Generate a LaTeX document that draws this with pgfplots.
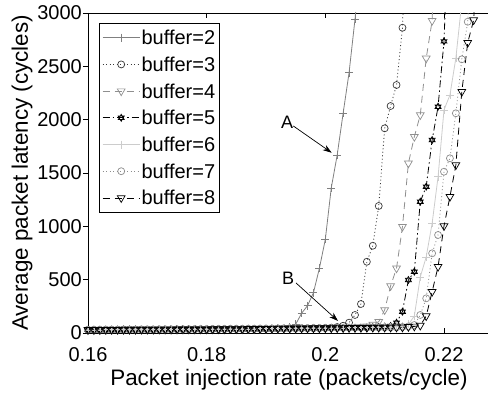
\documentclass[border=0pt]{standalone}
\usepackage{pgfplots}
\pgfplotsset{compat=1.18}
\usepackage{pgfplotstable}
\usepackage{fontspec}
\setmainfont{Liberation Sans}
\usetikzlibrary{arrows.meta}

\pgfdeclareplotmark{hexagram}{%
  \pgfpathmoveto{\pgfqpointpolar{90}{\pgfplotmarksize}}%
  \pgfpathlineto{\pgfqpointpolar{210}{\pgfplotmarksize}}%
  \pgfpathlineto{\pgfqpointpolar{330}{\pgfplotmarksize}}%
  \pgfpathclose
  \pgfpathmoveto{\pgfqpointpolar{270}{\pgfplotmarksize}}%
  \pgfpathlineto{\pgfqpointpolar{30}{\pgfplotmarksize}}%
  \pgfpathlineto{\pgfqpointpolar{150}{\pgfplotmarksize}}%
  \pgfpathclose
  \pgfusepathqstroke}

\definecolor{cA}{gray}{0.50}
\definecolor{cB}{gray}{0.22}
\definecolor{cC}{gray}{0.56}
\definecolor{cD}{gray}{0.00}
\definecolor{cE}{gray}{0.80}
\definecolor{cF}{gray}{0.55}
\definecolor{cG}{gray}{0.00}

\pgfplotstableread{
x      b2    b3    b4    b5    b6    b7    b8
0.160  30    30    30    30    30    30    30
0.161  30    30    30    30    30    30    30
0.162  30    30    30    30    30    30    30
0.163  31    31    31    31    31    31    31
0.164  31    31    31    31    31    31    31
0.165  31    31    31    31    31    31    31
0.166  32    32    32    32    32    32    32
0.167  32    32    32    32    32    32    32
0.168  32    32    32    32    32    32    32
0.169  33    33    33    33    33    33    33
0.170  33    33    33    33    33    33    33
0.171  33    33    33    33    33    33    33
0.172  34    34    34    34    34    34    34
0.173  34    34    34    34    34    34    34
0.174  34    34    34    34    34    34    34
0.175  35    35    35    35    35    35    35
0.176  35    35    35    35    35    35    35
0.177  35    35    35    35    35    35    35
0.178  36    36    36    36    36    36    36
0.179  36    36    36    36    36    36    36
0.180  36    36    36    36    36    36    36
0.181  37    37    37    37    37    37    37
0.182  37    37    37    37    37    37    37
0.183  37    37    37    37    37    37    37
0.184  38    38    38    38    38    38    38
0.185  38    38    38    38    38    38    38
0.186  38    38    38    38    38    38    38
0.187  39    39    39    39    39    39    39
0.188  39    39    39    39    39    39    39
0.189  40    40    40    40    40    40    40
0.190  40    40    40    40    40    40    40
0.191  41    41    41    41    41    41    41
0.192  42    42    42    42    42    42    42
0.193  43    43    43    43    43    43    43
0.194  55    44    44    44    44    44    44
0.195  81    44    44    44    44    44    44
0.196  185   45    45    45    45    45    45
0.197  256   45    45    45    45    45    45
0.198  378   46    46    46    46    46    46
0.199  607   46    46    46    46    46    46
0.200  878   47    47    47    47    47    47
0.201  1360  50    47    47    47    47    47
0.202  1669  56    48    48    48    48    48
0.203  2060  68    48    48    48    48    48
0.204  2440  97    49    49    49    49    49
0.205  2941  169   52    49    49    49    49
0.206  3500  272   56    50    50    50    50
0.207  nan   668   64    50    50    50    50
0.208  nan   818   80    54    51    51    51
0.209  nan   1191  106   57    51    51    51
0.210  nan   1919  216   60    55    52    52
0.211  nan   2128  441   66    58    52    52
0.212  nan   2325  607   97    62    53    53
0.213  nan   2862  997   200   68    57    53
0.214  nan   4500  1591  497   80    62    58
0.215  nan   nan   1840  575   159   75    62
0.216  nan   nan   2044  1231  525   169   70
0.217  nan   nan   2575  1372  713   325   159
0.218  nan   nan   2928  1809  1028  747   387
0.219  nan   nan   4500  2122  1465  919   622
0.220  nan   nan   nan   2734  2091  1512  1003
0.221  nan   nan   nan   4200  2231  1638  1278
0.222  nan   nan   nan   nan   2578  2060  1575
0.223  nan   nan   nan   nan   3100  2566  2262
0.224  nan   nan   nan   nan   nan   2918  2722
0.225  nan   nan   nan   nan   nan   4000  2934
0.226  nan   nan   nan   nan   nan   nan   4000
}\data

\begin{document}
\begin{tikzpicture}
\path[use as bounding box] (-88bp,-61bp) rectangle (400bp,333bp);
\begin{axis}[
  at={(0,0)}, anchor=south west,
  scale only axis, width=402bp, height=320bp,
  xmin=0.16, xmax=0.227753, ymin=0, ymax=3000,
  axis line style={black, line width=0.8bp},
  xtick={0.16,0.18,0.2,0.22}, xticklabels={0.16,0.18,0.2,0.22},
  ytick={0,500,1000,1500,2000,2500,3000},
  yticklabels={0,500,1000,1500,2000,2500,3000},
  xtick align=inside, ytick align=outside,
  major tick length=5bp,
  tick style={black, line width=0.6bp},
  tick label style={font=\fontsize{20bp}{24bp}\selectfont},
  /pgf/number format/assume math mode=true,
  xticklabel style={anchor=base, yshift=-28bp, inner sep=0bp},
  yticklabel style={anchor=east, inner sep=0bp, xshift=-1bp},
  every axis x label/.style={at={(axis description cs:0.5,-0.1656)}, anchor=base},
  every axis y label/.style={at={(axis description cs:-0.1493,0.5)}, rotate=90, anchor=base},
  label style={font=\fontsize{22.4bp}{26bp}\selectfont},
  xlabel={Packet injection rate (packets/cycle)},
  ylabel={Average packet latency (cycles)},
  legend style={at={(axis description cs:0.0274,0.969)}, anchor=north west,
    draw=black, line width=0.6bp, fill=white,
    font=\fontsize{20bp}{24bp}\selectfont,
    inner xsep=3bp, inner ysep=6bp, row sep=9.7bp,
    nodes={inner sep=1.5bp, text height=14bp, text depth=0bp}},
  legend cell align=left,
  legend image code/.code={\draw[mark repeat=2,mark phase=2] plot coordinates {(0bp,0bp) (18.5bp,0bp) (37bp,0bp)};},
]
\addplot[cA, line width=0.8bp, mark=+, mark size=4bp, mark options={solid, line width=0.6bp}] table[x=x,y=b2] {\data};
\addlegendentry{buffer=2}
\addplot[cB, line width=0.8bp, dash pattern=on 1bp off 2.5bp, mark=o, mark size=3.5bp, mark options={solid, line width=0.7bp}] table[x=x,y=b3] {\data};
\addlegendentry{buffer=3}
\addplot[cC, line width=0.8bp, dash pattern=on 7bp off 5bp, mark=triangle, mark size=4.5bp, mark options={solid, rotate=180, line width=0.7bp}] table[x=x,y=b4] {\data};
\addlegendentry{buffer=4}
\addplot[cD, line width=0.8bp, dash pattern=on 7bp off 3bp on 1.5bp off 3bp, mark=hexagram, mark size=3.5bp, mark options={solid, line width=0.7bp}] table[x=x,y=b5] {\data};
\addlegendentry{buffer=5}
\addplot[cE, line width=0.8bp, mark=+, mark size=4bp, mark options={solid, line width=0.6bp}] table[x=x,y=b6] {\data};
\addlegendentry{buffer=6}
\addplot[cF, line width=0.8bp, dash pattern=on 1bp off 2.5bp, mark=o, mark size=3.5bp, mark options={solid, line width=0.7bp}] table[x=x,y=b7] {\data};
\addlegendentry{buffer=7}
\addplot[cG, line width=0.8bp, dash pattern=on 7bp off 5bp, mark=triangle, mark size=4.5bp, mark options={solid, rotate=180, line width=0.7bp}] table[x=x,y=b8] {\data};
\addlegendentry{buffer=8}

\node[font=\fontsize{18bp}{22bp}\selectfont] at (axis cs:0.19354,1978) {A};
\draw[black, line width=0.7bp, -{Stealth[length=9bp,width=6bp]}] (axis cs:0.19460,1941) -- (axis cs:0.20107,1690);
\node[font=\fontsize{18bp}{22bp}\selectfont] at (axis cs:0.19371,516) {B};
\draw[black, line width=0.7bp, -{Stealth[length=9bp,width=6bp]}] (axis cs:0.19506,469) -- (axis cs:0.20214,113);
\end{axis}
\end{tikzpicture}
\end{document}
